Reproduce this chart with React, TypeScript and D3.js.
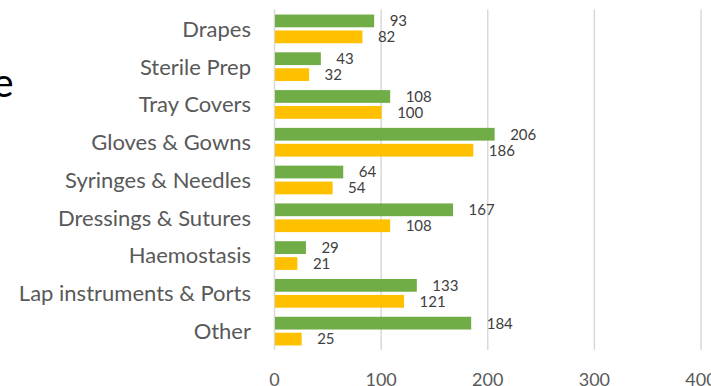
import { useEffect, useRef } from 'react';
import * as d3 from 'd3';

const width = 711;
const height = 386;
const margin = { top: 10, right: 10, bottom: 36, left: 274.5 };
const green = '#70AD47';
const yellow = '#FFC000';
const grid = '#D9D9D9';
const font = 'Lato, sans-serif';

const categories = [
    'Drapes',
    'Sterile Prep',
    'Tray Covers',
    'Gloves & Gowns',
    'Syringes & Needles',
    'Dressings & Sutures',
    'Haemostasis',
    'Lap instruments & Ports',
    'Other',
];
const seriesGreen = [93, 43, 108, 206, 64, 167, 29, 133, 184];
const seriesYellow = [82, 32, 100, 186, 54, 108, 21, 121, 25];
const xTicks = [0, 100, 200, 300, 400];

export default function App() {
    const ref = useRef<SVGSVGElement>(null);

    useEffect(() => {
        const svg = d3.select(ref.current);
        svg.selectAll('*').remove();

        const x = d3.scaleLinear().domain([0, 400]).range([margin.left, 701]);
        const y = d3.scaleBand<string>()
            .domain(categories)
            .range([margin.top, height - margin.bottom])
            .paddingInner(0.24)
            .paddingOuter(0.12);
        const sub = d3.scaleBand<string>()
            .domain(['g', 'y'])
            .range([0, y.bandwidth()])
            .paddingInner(0.2);

        // grid lines
        svg.append('g')
            .selectAll('line')
            .data(xTicks)
            .join('line')
            .attr('x1', d => x(d))
            .attr('x2', d => x(d))
            .attr('y1', margin.top - 0.5)
            .attr('y2', height - margin.bottom)
            .attr('stroke', grid)
            .attr('stroke-width', 1.5);

        // tick labels
        svg.append('g')
            .selectAll('text')
            .data(xTicks)
            .join('text')
            .attr('x', d => x(d))
            .attr('y', 386)
            .attr('text-anchor', 'middle')
            .attr('font-family', font)
            .attr('font-size', 18)
            .attr('fill', '#595959')
            .text(d => d);

        // category labels
        svg.append('g')
            .selectAll('text')
            .data(categories)
            .join('text')
            .attr('x', 251)
            .attr('y', d => y(d)! + y.bandwidth() / 2)
            .attr('dy', '0.36em')
            .attr('text-anchor', 'end')
            .attr('font-family', font)
            .attr('font-size', 22)
            .attr('fill', '#595959')
            .text(d => d);

        const rows = categories.map((c, i) => ({ c, g: seriesGreen[i], y: seriesYellow[i] }));
        const bars = [
            { key: 'g', color: green, get: (r: any) => r.g },
            { key: 'y', color: yellow, get: (r: any) => r.y },
        ];

        bars.forEach(s => {
            svg.append('g')
                .selectAll('rect')
                .data(rows)
                .join('rect')
                .attr('x', x(0) + 0.5)
                .attr('y', d => y(d.c)! + sub(s.key)!)
                .attr('width', d => x(s.get(d)) - x(0))
                .attr('height', sub.bandwidth())
                .attr('fill', s.color);

            svg.append('g')
                .selectAll('text')
                .data(rows)
                .join('text')
                .attr('x', d => x(s.get(d)) + 16)
                .attr('y', d => y(d.c)! + sub(s.key)! + sub.bandwidth() / 2)
                .attr('dy', '0.36em')
                .attr('font-family', font)
                .attr('font-size', 15)
                .attr('fill', '#404040')
                .text(d => s.get(d));
        });

        // cut-off title fragment at the left edge
        svg.append('text')
            .attr('x', 13.5)
            .attr('y', 97)
            .attr('text-anchor', 'end')
            .attr('font-family', font)
            .attr('font-size', 40)
            .attr('fill', '#000')
            .text('e');
    }, []);

    return (
        <svg ref={ref} width={width} height={height}
            style={{ position: 'absolute', left: 0, top: 0, background: '#fff' }} />
    );
}
